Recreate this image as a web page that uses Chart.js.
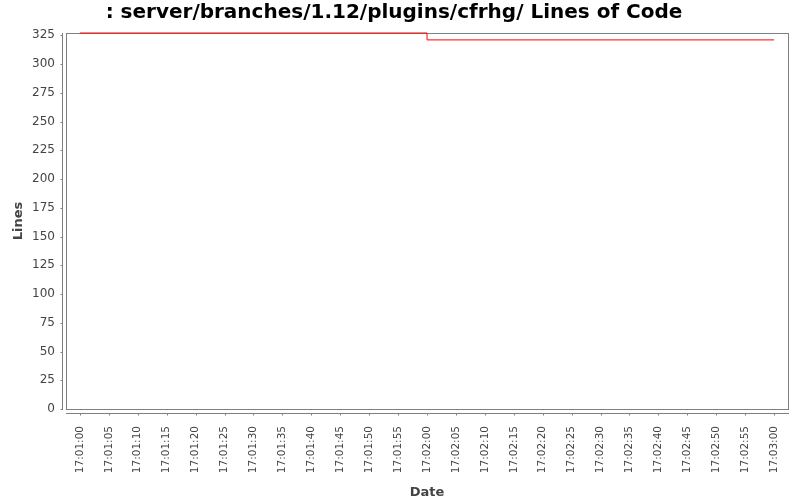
<!DOCTYPE html>
<html>
<head>
<meta charset="utf-8">
<script src="https://cdn.jsdelivr.net/npm/chart.js@4/dist/chart.umd.min.js"></script>
<style>
    html, body { margin: 0; padding: 0; background: #fff; }
    #wrap { width: 800px; height: 500px; }
</style>
</head>
<body>
<div id="wrap"><canvas id="locChart" width="800" height="500"></canvas></div>
<script>
    // ============================================================
    // DATA
    // ============================================================
    const xTickSeconds = [0, 5, 10, 15, 20, 25, 30, 35, 40, 45, 50, 55, 60,
        65, 70, 75, 80, 85, 90, 95, 100, 105, 110, 115, 120];
    const xTickLabels = ['17:01:00', '17:01:05', '17:01:10', '17:01:15', '17:01:20',
        '17:01:25', '17:01:30', '17:01:35', '17:01:40', '17:01:45', '17:01:50',
        '17:01:55', '17:02:00', '17:02:05', '17:02:10', '17:02:15', '17:02:20',
        '17:02:25', '17:02:30', '17:02:35', '17:02:40', '17:02:45', '17:02:50',
        '17:02:55', '17:03:00'];
    const yTickValues = [0, 25, 50, 75, 100, 125, 150, 175, 200, 225, 250, 275, 300, 325];

    // seconds after 17:01:00 and lines of code
    const pointSeconds = [0, 60, 120];
    const linesOfCode = [327, 321, 321];

    const GRAY = '#808080';
    const TEXT = '#444444';
    const FONT = "'DejaVu Sans', sans-serif";

    // ============================================================
    // PLOT FRAME (JFreeChart style offset axes)
    // ============================================================
    const framePlugin = {
        id: 'frame',
        beforeDatasetsDraw(chart) {
            const { ctx, chartArea: a, scales } = chart;
            ctx.save();
            ctx.strokeStyle = GRAY;
            ctx.lineWidth = 1;

            // plot outline
            ctx.strokeRect(Math.round(a.left) + 0.5, Math.round(a.top) + 0.5,
                Math.round(a.right - a.left), Math.round(a.bottom - a.top));

            // y axis line + ticks
            const ax = Math.round(a.left) - 4 + 0.5;
            ctx.beginPath();
            ctx.moveTo(ax, a.top);
            ctx.lineTo(ax, a.bottom + 1);
            yTickValues.forEach(v => {
                const y = Math.round(scales.y.getPixelForValue(v)) + 0.5;
                ctx.moveTo(ax - 2, y);
                ctx.lineTo(ax, y);
            });

            // x axis line + ticks
            const ay = Math.round(a.bottom) + 4 + 0.5;
            ctx.moveTo(a.left, ay);
            ctx.lineTo(a.right + 1, ay);
            xTickSeconds.forEach(s => {
                const x = Math.round(scales.x.getPixelForValue(s)) + 0.5;
                ctx.moveTo(x, ay);
                ctx.lineTo(x, ay + 2);
            });
            ctx.stroke();
            ctx.restore();
        }
    };

    // ============================================================
    // CHART
    // ============================================================
    const points = pointSeconds.map((s, i) => ({ x: s, y: linesOfCode[i] }));

    new Chart(document.getElementById('locChart'), {
        type: 'line',
        data: {
            datasets: [{
                label: 'Lines',
                data: points,
                borderColor: '#ff0000',
                borderWidth: 1,
                pointRadius: 0,
                stepped: 'before',
                fill: false,
                clip: false
            }]
        },
        options: {
            responsive: false,
            animation: false,
            devicePixelRatio: 1,
            layout: { padding: { left: 0, right: 12, top: 0, bottom: 0 } },
            plugins: {
                legend: { display: false },
                tooltip: { enabled: false },
                title: {
                    display: true,
                    text: ': server/branches/1.12/plugins/cfrhg/ Lines of Code',
                    color: '#000',
                    font: { family: FONT, size: 20, weight: 'bold', lineHeight: 1.2 },
                    padding: { top: 0.5, bottom: 8.5 }
                }
            },
            scales: {
                x: {
                    type: 'linear',
                    min: -2.4,
                    max: 122.4,
                    grid: { display: false, drawTicks: false },
                    border: { display: false },
                    afterBuildTicks: (scale) => {
                        scale.ticks = xTickSeconds.map(v => ({ value: v }));
                    },
                    afterFit: (scale) => {
                        scale.height = 91;
                        scale.paddingLeft = 0;
                        scale.paddingRight = 0;
                    },
                    ticks: {
                        autoSkip: false,
                        minRotation: 90,
                        maxRotation: 90,
                        padding: 17,
                        color: TEXT,
                        font: { family: FONT, size: 10.5 },
                        callback: (v) => {
                            const i = xTickSeconds.indexOf(v);
                            return i >= 0 ? xTickLabels[i] : '';
                        }
                    },
                    title: {
                        display: true,
                        text: 'Date',
                        color: TEXT,
                        font: { family: FONT, size: 13, weight: 'bold', lineHeight: 1.2 },
                        padding: { top: 8.2, bottom: 0 }
                    }
                },
                y: {
                    type: 'linear',
                    min: 0,
                    max: 327,
                    grid: { display: false, drawTicks: false },
                    border: { display: false },
                    afterBuildTicks: (scale) => {
                        scale.ticks = yTickValues.map(v => ({ value: v }));
                    },
                    afterFit: (scale) => {
                        scale.width = 66;
                        scale.paddingTop = 0;
                        scale.paddingBottom = 0;
                    },
                    ticks: {
                        padding: 11,
                        color: TEXT,
                        font: { family: FONT, size: 12 },
                        callback: (v) => String(v)
                    },
                    title: {
                        display: true,
                        text: 'Lines',
                        color: TEXT,
                        font: { family: FONT, size: 13, weight: 'bold', lineHeight: 1.2 },
                        padding: { top: 11, bottom: 0 }
                    }
                }
            }
        },
        plugins: [framePlugin]
    });
</script>
</body>
</html>
